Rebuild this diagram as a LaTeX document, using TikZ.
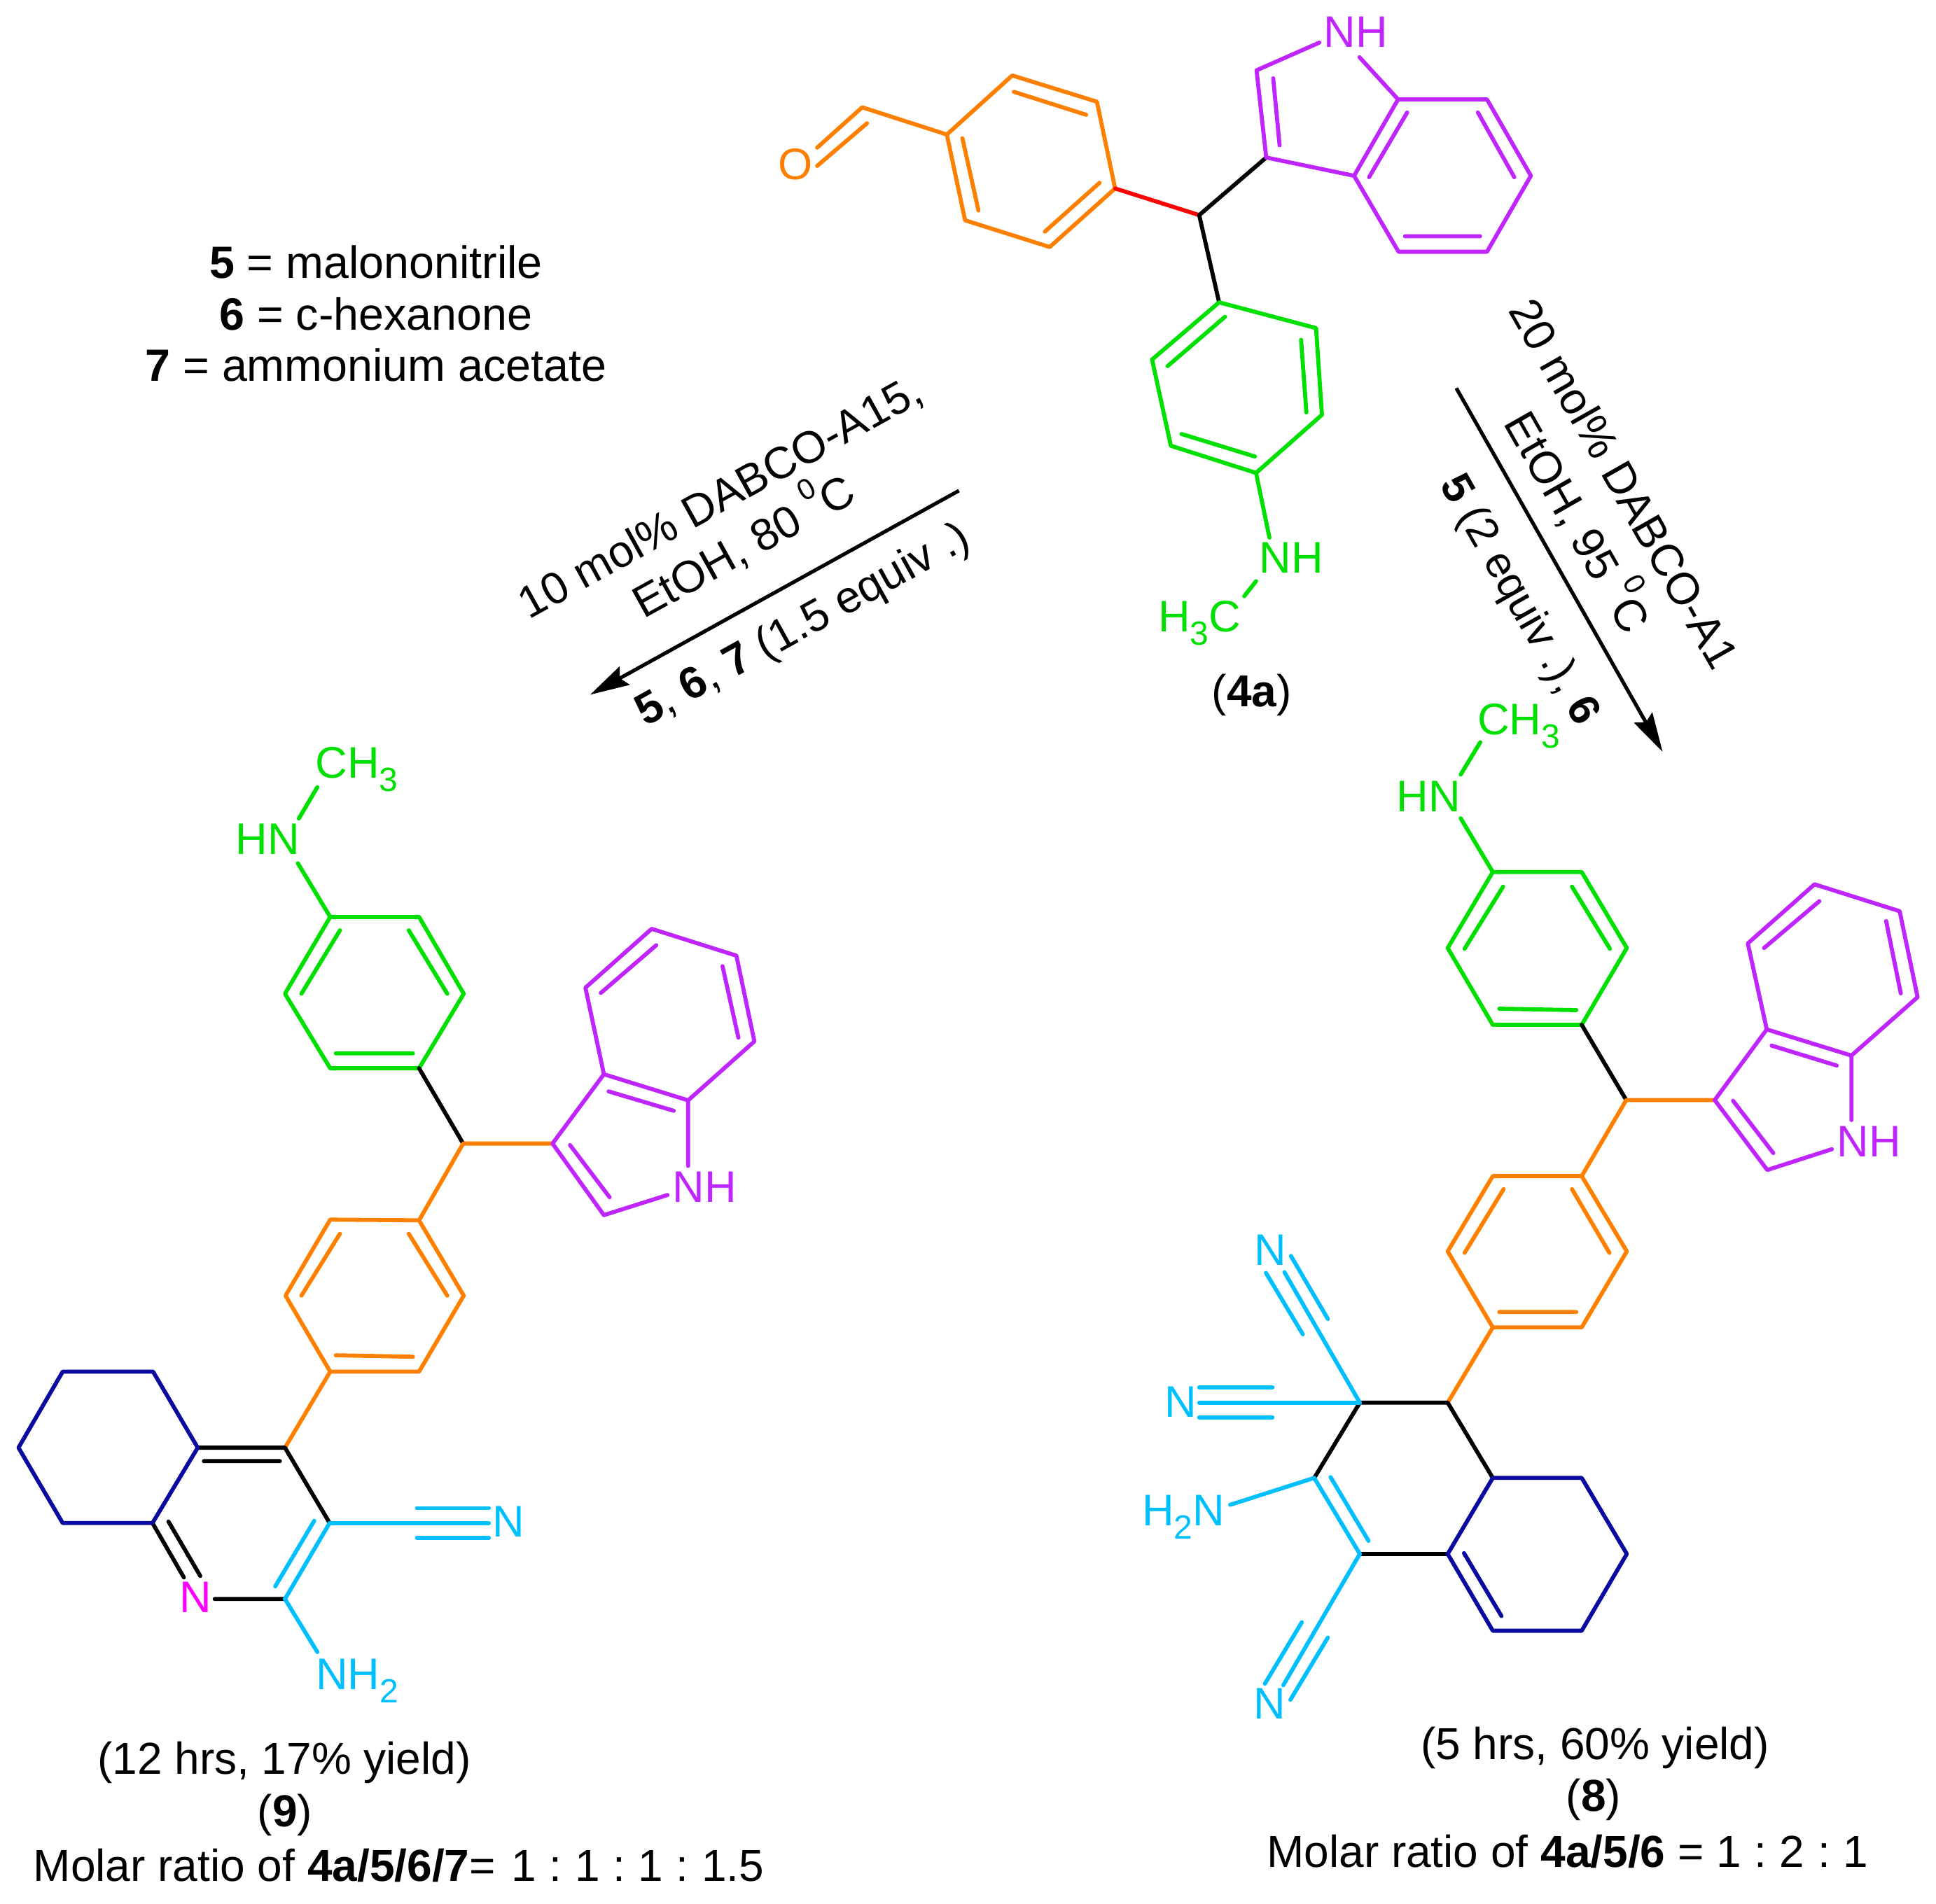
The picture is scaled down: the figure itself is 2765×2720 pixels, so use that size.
\documentclass[tikz,border=0pt]{standalone}
\usepackage{fontspec}
\setmainfont{Liberation Sans}
\usetikzlibrary{arrows.meta}
\definecolor{cOr}{HTML}{FF8000}
\definecolor{cPu}{HTML}{BF26FF}
\definecolor{cGr}{HTML}{00E000}
\definecolor{cCy}{HTML}{00BFFF}
\definecolor{cBl}{HTML}{0A0AA0}
\definecolor{cMa}{HTML}{FF00FF}
\newcommand{\chemsub}[1]{\raisebox{-.3em}{\fontsize{12}{13}\selectfont #1}}
\newcommand{\degz}{\raisebox{.55em}{\fontsize{10.5}{11}\selectfont 0}}
\newcommand{\cs}{\hspace{.29em}:\hspace{.29em}}
\tikzset{
  bond/.style={line width=1.45pt,line cap=round,line join=round},
  orb/.style={bond,cOr},
  pub/.style={bond,cPu},
  grb/.style={bond,cGr},
  cyb/.style={bond,cCy},
  blb/.style={bond,cBl},
  blk/.style={bond,black},
  redb/.style={bond,red},
  atom/.style={inner sep=0pt,font=\fontsize{15.8}{18}\selectfont},
  txt/.style={inner sep=0pt,font=\fontsize{16}{19}\selectfont,anchor=base},
  legend/.style={inner sep=0pt,font=\fontsize{16.15}{19}\selectfont,anchor=base},
  rxn/.style={inner sep=0pt,font=\fontsize{16}{18}\selectfont,anchor=base},
  rxnb/.style={inner sep=0pt,font=\fontsize{15.6}{18}\selectfont,anchor=base},
  rarrow/.style={bond,line width=1.3pt,line cap=butt,-{Stealth[length=14pt,width=7.4pt,inset=1.9pt]}}
}
\begin{document}
\begin{tikzpicture}[x=0.25pt,y=-0.25pt]
\useasboundingbox (0,0) rectangle (2765,2720);
% ===== 4a =====
\coordinate (aA) at (1352.3,192.2); \coordinate (aB) at (1445.7,107.8); \coordinate (aC) at (1566.6,145.3);
\coordinate (aD) at (1592.6,269.2); \coordinate (aE) at (1499.2,352.9); \coordinate (aF) at (1378.3,314.7);
\coordinate (aCHO) at (1231.4,153.3);
\coordinate (aMid) at (1712.7,307.3);
\coordinate (aI3) at (1808.4,225); \coordinate (aI2) at (1794.6,100.4); \coordinate (aI7a) at (1996.7,142);
\coordinate (aI3a) at (1933.9,251.1); \coordinate (aI4) at (1997.4,359.6); \coordinate (aI5) at (2123.7,359.6);
\coordinate (aI6) at (2186.4,251.1); \coordinate (aI7) at (2123.7,142);
\coordinate (aGa) at (1741.1,431.9); \coordinate (aGb) at (1879.6,468.7); \coordinate (aGc) at (1888,592.6);
\coordinate (aGd) at (1793.9,675.6); \coordinate (aGe) at (1672.2,636.8); \coordinate (aGf) at (1645.4,513.6);
\node[atom] (aO) at (1135.7,234.4) {\textcolor{cOr}{O}};
\node[atom,anchor=base west] (aNHi) at (1890,67) {\textcolor{cPu}{NH}};
\node[atom,anchor=base west] (aNHm) at (1798,818) {\textcolor{cGr}{NH}};
\node[atom,anchor=base east] (aMe) at (1773,902.6) {\textcolor{cGr}{H\chemsub{3}C}};
\node[txt] (lab4a) at (1788,1009) {(\textbf{4a})};
\draw[orb] (aA)--(aB)--(aC)--(aD)--(aE)--(aF)--cycle;
\draw[orb] (1448,131.2)--(1551.3,164) (1374.5,197.5)--(1397.4,300.6) (1570.4,261.1)--(1492.3,330.8);
\draw[orb] (aA)--(aCHO)--(1167.1,210.9) (1238.3,176.1)--(1167.1,237);
\draw[redb] (aD)--(aMid);
\draw[blk] (aI3)--(aMid)--(aGa);
\draw[pub] (aI3)--(aI2)--(1884.2,60.9) (1941.6,81.7)--(aI7a)--(aI7)--(aI6)--(aI5)--(aI4)--(aI3a)--(aI3);
\draw[pub] (aI3a)--(aI7a);
\draw[pub] (1818.4,111.8)--(1827.5,207.6) (2009.7,160.7)--(1955.3,253.1) (2110.7,160.7)--(2162.7,253.1) (2006.6,337.5)--(2113.8,337.5);
\draw[grb] (aGa)--(aGb)--(aGc)--(aGd)--(aGe)--(aGf)--cycle;
\draw[grb] (1749.5,452.6)--(1667.6,523) (1858.2,485.5)--(1865.8,589.2) (1792.3,652.2)--(1687.5,620);
\draw[grb] (aGd)--(1813,768) (1793.9,830.3)--(1777,851.7);
% ===== legend =====
\node[legend] (leg5) at (537,397.3) {\textbf{5} = malononitrile};
\node[legend] (leg6) at (537,471.5) {\textbf{6} = c-hexanone};
\node[legend] (leg7) at (537,544.8) {\textbf{7} = ammonium acetate};
% ===== arrows =====
\coordinate (ar1s) at (1369.6,700.9); \coordinate (ar1e) at (842.9,992.4);
\coordinate (ar2s) at (2079.9,554.5); \coordinate (ar2e) at (2374.5,1074);
\draw[rarrow] (ar1s)--(ar1e);
\draw[rarrow] (ar2s)--(ar2e);
\node[rxn,rotate=29] (r1a) at (1039,728.6) {10 mol\% DABCO-A15,};
\node[rxn,rotate=29] (r1b) at (1072.8,800) {EtOH, 80 \degz C};
\node[rxn,rotate=29] (r1c) at (1156,909) {\textbf{5}, \textbf{6}, \textbf{7} (1.5 equiv .)};
\node[rxn,rotate=-60.4] (r2a) at (2300,702) {20 mol\% DABCO-A1};
\node[rxn,rotate=-60.4] (r2b) at (2233.5,757.1) {EtOH, 95 \degz C};
\node[rxnb,rotate=-60.4] (r2c) at (2154,866) {\textbf{5} (2 equiv .), \textbf{6}};
% ===== product 8 =====
\coordinate (bGa) at (2132,1245.7); \coordinate (bGb) at (2259,1245.7); \coordinate (bGc) at (2323.4,1354.3);
\coordinate (bGd) at (2259,1464); \coordinate (bGe) at (2132,1464); \coordinate (bGf) at (2067.6,1354.3);
\coordinate (bMid) at (2322.6,1571.5);
\coordinate (bOa) at (2259,1680.1); \coordinate (bOb) at (2323.4,1787.6); \coordinate (bOc) at (2259,1896.2);
\coordinate (bOd) at (2132,1896.2); \coordinate (bOe) at (2067.6,1787.6); \coordinate (bOf) at (2132,1680.1);
\coordinate (bA) at (2067.6,2003.8); \coordinate (bB) at (1942.1,2003.8); \coordinate (bC) at (1877,2111.3);
\coordinate (bD) at (1942.1,2219.9); \coordinate (bE) at (2067.6,2219.9); \coordinate (bF) at (2132,2111.3);
\coordinate (bH1) at (2259,2111.3); \coordinate (bH2) at (2323.4,2219.9); \coordinate (bH3) at (2259,2329.6); \coordinate (bH4) at (2132,2329.6);
\coordinate (bI3) at (2448.9,1571.5); \coordinate (bI3a) at (2523.3,1470.6); \coordinate (bI7a) at (2644.2,1507.9);
\coordinate (bI2) at (2524,1671.4); \coordinate (bI4) at (2496.2,1347.7); \coordinate (bI5) at (2591.5,1263.3);
\coordinate (bI6) at (2713.1,1301.7); \coordinate (bI7) at (2738.7,1424.5);
\node[atom,anchor=base east] (bHN) at (2087,1159) {\textcolor{cGr}{HN}};
\node[atom,anchor=base west] (bMe) at (2109.5,1049.4) {\textcolor{cGr}{CH\chemsub{3}}};
\node[atom,anchor=base west] (bNHi) at (2623,1652.7) {\textcolor{cPu}{NH}};
\node[atom] (bN1) at (1814.2,1785.5) {\textcolor{cCy}{N}};
\node[atom] (bN2) at (1686.4,2002.7) {\textcolor{cCy}{N}};
\node[atom] (bN3) at (1813.5,2433.8) {\textcolor{cCy}{N}};
\node[atom,anchor=base east] (bNH2) at (1750,2179.3) {\textcolor{cCy}{H\chemsub{2}N}};
\draw[grb] (bGa)--(bGb)--(bGc)--(bGd)--(bGe)--(bGf)--cycle;
\draw[grb] (2146.7,1266.6)--(2091.7,1355.4) (2245.1,1266.6)--(2299.3,1355.4) (2141.3,1441)--(2251.3,1443);
\draw[grb] (bGa)--(2086.2,1169) (2086.2,1106.4)--(2114.1,1060.3);
\draw[blk] (bGd)--(bMid);
\draw[orb] (bOa)--(bMid)--(bI3);
\draw[orb] (bOa)--(bOb)--(bOc)--(bOd)--(bOe)--(bOf)--cycle;
\draw[orb] (2245.1,1698.8)--(2298.6,1789.8) (2147.4,1698.8)--(2091.7,1789.8) (2141.3,1874.3)--(2251.3,1874.3);
\draw[orb] (bOd)--(bA);
\draw[pub] (bI3)--(bI3a)--(bI7a)--(2644.2,1600) (2616.3,1641.7)--(bI2)--(bI3);
\draw[pub] (bI3a)--(bI4)--(bI5)--(bI6)--(bI7)--(bI7a);
\draw[pub] (2530.2,1493.7)--(2623.2,1522.2) (2475.2,1572.6)--(2532.6,1647.2) (2519.4,1354.3)--(2598.4,1287.4) (2693.8,1315.9)--(2714.7,1419.1);
\draw[blk] (bC)--(bB)--(bA)--(bF) (bD)--(bE);
\draw[cyb] (bC)--(bD) (1900.3,2110.2)--(1954.5,2201.2);
\draw[blb] (bF)--(bH1)--(bH2)--(bH3)--(bH4)--(bE)--cycle;
\draw[blb] (2090.9,2218.8)--(2144.4,2308.7);
\draw[cyb] (bB)--(1834.4,1817.3) (1896.4,1884.2)--(1843.7,1794.2) (1860.7,1906.1)--(1808,1818.4);
\draw[cyb] (bB)--(1712.7,2003.8) (1817.3,1981.8)--(1712.7,1981.8) (1817.3,2024.6)--(1712.7,2024.6);
\draw[cyb] (bD)--(1832.8,2407.4) (1896.4,2339.4)--(1842.9,2428.3) (1859.2,2317.5)--(1806.5,2405.3);
\draw[cyb] (bC)--(1756.9,2149.7);
\node[txt] (c8a) at (2278,2513) {(5 hrs, 60\% yield)};
\node[txt] (c8b) at (2276,2587.5) {(\textbf{8})};
\node[txt,anchor=base west] (c8c) at (1808.5,2667) {Molar ratio of \textbf{4a/5/6} = 1\cs 2\cs 1};
% ===== product 9 =====
\coordinate (cGa) at (471.6,1309.9); \coordinate (cGb) at (598.5,1309.9); \coordinate (cGc) at (662.3,1419.6);
\coordinate (cGd) at (598.5,1526.1); \coordinate (cGe) at (471.6,1526.1); \coordinate (cGf) at (407,1419.6);
\coordinate (cMid) at (661.5,1633.6);
\coordinate (cOa) at (598.5,1743.3); \coordinate (cOb) at (662.3,1850.9); \coordinate (cOc) at (598.5,1959.5);
\coordinate (cOd) at (471.6,1959.5); \coordinate (cOe) at (407.8,1850.9); \coordinate (cOf) at (471.6,1742.3);
\coordinate (cP4) at (407,2068.1); \coordinate (cP4a) at (282.4,2068.1); \coordinate (cP8a) at (217.8,2175.7);
\coordinate (cP2) at (407,2284.3); \coordinate (cP3) at (470.8,2175.7);
\coordinate (cH1) at (218.6,1959.5); \coordinate (cH2) at (89.5,1959.5); \coordinate (cH3) at (26.4,2068.1); \coordinate (cH4) at (89.5,2175.7);
\coordinate (cI3) at (789.1,1633.6); \coordinate (cI3a) at (862.5,1534.6); \coordinate (cI7a) at (982.8,1571.9);
\coordinate (cI2) at (862.5,1735.9); \coordinate (cI4) at (836.1,1411); \coordinate (cI5) at (930.7,1326.9);
\coordinate (cI6) at (1051.7,1365.2); \coordinate (cI7) at (1077.4,1487.7);
\node[atom,anchor=base east] (cHN) at (429,1220.4) {\textcolor{cGr}{HN}};
\node[atom,anchor=base west] (cMe) at (449.6,1111.8) {\textcolor{cGr}{CH\chemsub{3}}};
\node[atom,anchor=base west] (cNHi) at (960,1717.8) {\textcolor{cPu}{NH}};
\node[atom] (cNpy) at (279.4,2282.2) {\textcolor{cMa}{N}};
\node[atom] (cNcn) at (726,2173.6) {\textcolor{cCy}{N}};
\node[atom,anchor=base west] (cNH2) at (450.5,2413.2) {\textcolor{cCy}{NH\chemsub{2}}};
\draw[grb] (cGa)--(cGb)--(cGc)--(cGd)--(cGe)--(cGf)--cycle;
\draw[grb] (485.5,1329)--(430.5,1419.6) (583.8,1329)--(638.8,1419.6) (479.6,1504.8)--(589.7,1504.8);
\draw[grb] (cGa)--(425.4,1233.2) (426.8,1169.3)--(453.2,1124.6);
\draw[blk] (cGd)--(cMid);
\draw[orb] (cOa)--(cMid)--(cI3);
\draw[orb] (cOa)--(cOb)--(cOc)--(cOd)--(cOe)--(cOf)--cycle;
\draw[orb] (583.8,1762.5)--(638.8,1850.9) (485.5,1762.5)--(430.5,1850.9) (479.6,1936.1)--(589.7,1938.2);
\draw[orb] (cOd)--(cP4);
\draw[pub] (cI3)--(cI3a)--(cI7a)--(982.8,1665.6) (953.4,1707.1)--(cI2)--(cI3);
\draw[pub] (cI3a)--(cI4)--(cI5)--(cI6)--(cI7)--(cI7a);
\draw[pub] (869.1,1559.1)--(962.2,1586.8) (814.1,1635.8)--(870.6,1710.3) (858.1,1418.5)--(937.3,1350.3) (1031.9,1380.2)--(1054.6,1482.4);
\draw[blk] (cP4a)--(cP4)--(cP3) (291.2,2087.3)--(399.7,2087.3);
\draw[blk] (cP2)--(306.6,2284.3) (cP8a)--(262.6,2253.5) (240.6,2173.6)--(286,2251.3);
\draw[cyb] (cP3)--(cP2) (448.8,2172.5)--(393.1,2266.2);
\draw[blb] (cP4a)--(cH1)--(cH2)--(cH3)--(cH4)--(cP8a)--cycle;
\draw[cyb] (cP3)--(698.2,2175.7) (595.5,2154.4)--(698.2,2154.4) (595.5,2197)--(698.2,2197);
\draw[cyb] (cP2)--(453.2,2360);
\node[txt] (c9a) at (406,2534.8) {(12 hrs, 17\% yield)};
\node[txt] (c9b) at (407,2609) {(\textbf{9})};
\node[txt,anchor=base west] (c9c) at (47,2687) {Molar ratio of \textbf{4a/5/6/7}=\hspace{.36em}1\cs 1\cs 1\cs 1.5};
\end{tikzpicture}
\end{document}
